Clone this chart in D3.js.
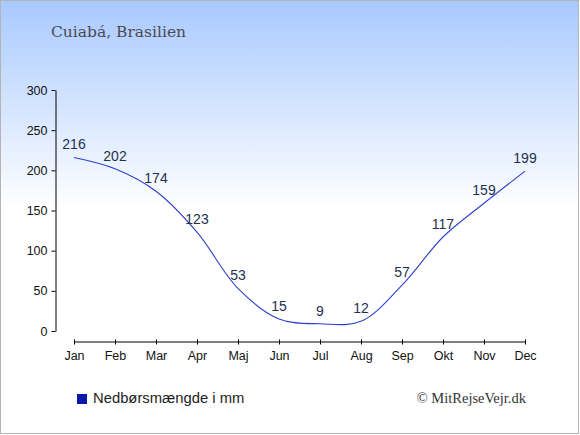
<!DOCTYPE html>
<html lang="da">
	<head>
		<meta charset="utf-8">
		<title>Cuiabá nedbør</title>
		<script type="text/javascript" src="https://cdn.jsdelivr.net/npm/d3@7"></script>
		<style type="text/css">
			body { margin: 0; padding: 0; }
			svg { display: block; }
		</style>
	</head>
	<body>
		<script type="text/javascript">
			// Data
			var months = ["Jan", "Feb", "Mar", "Apr", "Maj", "Jun", "Jul", "Aug", "Sep", "Okt", "Nov", "Dec"];
			var rain = [216, 202, 174, 123, 53, 15, 9, 12, 57, 117, 159, 199];
			var yTicks = [0, 50, 100, 150, 200, 250, 300];

			// Width and height
			var w = 580;
			var h = 435;

			var svg = d3.select("body")
						.append("svg")
						.attr("width", w)
						.attr("height", h);

			// Background gradient
			var grad = svg.append("defs")
						  .append("linearGradient")
						  .attr("id", "bg")
						  .attr("x1", 0).attr("y1", 0)
						  .attr("x2", 0).attr("y2", 1);
			grad.append("stop").attr("offset", "0%").attr("stop-color", "#a8c9ff");
			grad.append("stop").attr("offset", "48%").attr("stop-color", "#ffffff");
			grad.append("stop").attr("offset", "100%").attr("stop-color", "#ffffff");

			svg.append("rect")
			   .attr("x", 0.5).attr("y", 0.5)
			   .attr("width", w - 2).attr("height", h - 2)
			   .attr("fill", "url(#bg)")
			   .attr("stroke", "#b4b4b4")
			   .attr("stroke-width", 1);

			// Title
			svg.append("text")
			   .attr("x", 51)
			   .attr("y", 37)
			   .style("font-family", "'DejaVu Serif', serif")
			   .style("font-size", "15.5px")
			   .attr("fill", "#4a4a55")
			   .text("Cuiabá, Brasilien");

			// Scales
			var xScale = d3.scalePoint()
						   .domain(months)
						   .range([74, 525]);

			var yScale = d3.scaleLinear()
						   .domain([0, 300])
						   .range([331, 90]);

			// Y axis
			var yAxis = d3.axisLeft(yScale)
						  .tickValues(yTicks)
						  .tickSizeInner(4)
						  .tickSizeOuter(0)
						  .tickPadding(4);

			var gy = svg.append("g")
						.attr("transform", "translate(55.5,0)")
						.call(yAxis);

			// X axis
			var xAxis = d3.axisBottom(xScale)
						  .tickSizeInner(3)
						  .tickSizeOuter(0)
						  .tickPadding(7);

			var gx = svg.append("g")
						.attr("transform", "translate(0,341.5)")
						.call(xAxis);
			gx.selectAll(".tick line").attr("y1", -2);

			svg.selectAll(".domain, .tick line")
			   .attr("stroke", "#000")
			   .attr("stroke-width", 1);
			svg.selectAll(".tick text")
			   .style("font-family", "'Liberation Sans', Arial, sans-serif")
			   .style("font-size", "12.5px")
			   .attr("fill", "#111");

			// Line
			var line = d3.line()
						 .x(function(d, i) { return xScale(months[i]); })
						 .y(function(d) { return yScale(d); })
						 .curve(d3.curveCatmullRom);

			svg.append("path")
			   .datum(rain)
			   .attr("d", line)
			   .attr("fill", "none")
			   .attr("stroke", "#2f3fcf")
			   .attr("stroke-width", 1.1);

			// Value labels
			svg.selectAll("text.val")
			   .data(rain)
			   .enter()
			   .append("text")
			   .attr("class", "val")
			   .attr("x", function(d, i) { return xScale(months[i]); })
			   .attr("y", function(d) { return yScale(d) - 8; })
			   .attr("text-anchor", "middle")
			   .style("font-family", "'Liberation Sans', Arial, sans-serif")
			   .style("font-size", "14px")
			   .attr("fill", "#1f3050")
			   .text(function(d) { return d; });

			// Legend
			svg.append("rect")
			   .attr("x", 77).attr("y", 394)
			   .attr("width", 10).attr("height", 10)
			   .attr("fill", "#0a1aa8");

			svg.append("text")
			   .attr("x", 93)
			   .attr("y", 403)
			   .style("font-family", "'Liberation Sans', Arial, sans-serif")
			   .style("font-size", "14.8px")
			   .attr("fill", "#222")
			   .text("Nedbørsmængde i mm");

			svg.append("text")
			   .attr("x", 526)
			   .attr("y", 403)
			   .attr("text-anchor", "end")
			   .style("font-family", "'Liberation Serif', 'Times New Roman', serif")
			   .style("font-size", "14.5px")
			   .attr("fill", "#333")
			   .text("© MitRejseVejr.dk");
		</script>
	</body>
</html>
